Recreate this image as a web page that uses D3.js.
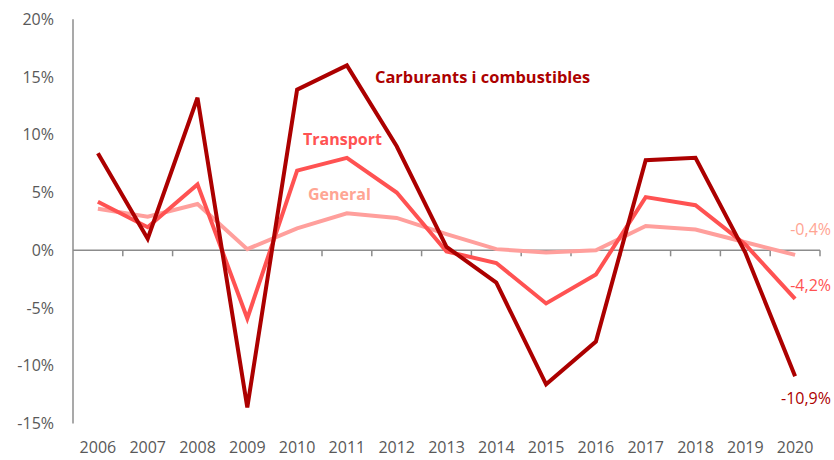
<!DOCTYPE html>
<html><head><meta charset="utf-8">
<script src="https://cdn.jsdelivr.net/npm/d3@7"></script>
<style>
html,body{margin:0;padding:0;background:#fff;}
svg{display:block;font-family:"Open Sans",sans-serif;}
</style></head>
<body>
<svg id="chart" width="834" height="460"></svg>
<script>
const years = ["2006","2007","2008","2009","2010","2011","2012","2013","2014","2015","2016","2017","2018","2019","2020"];
const carburants = [8.4, 1.0, 13.2, -13.6, 13.9, 16.0, 9.0, 0.3, -2.8, -11.6, -7.9, 7.8, 8.0, -0.2, -10.9];
const transport = [4.2, 2.0, 5.7, -5.9, 6.9, 8.0, 5.0, -0.1, -1.1, -4.6, -2.1, 4.6, 3.9, 0.5, -4.2];
const general = [3.6, 2.9, 4.0, 0.1, 1.9, 3.2, 2.8, 1.4, 0.1, -0.2, 0.0, 2.1, 1.8, 0.7, -0.4];
const yTicks = [-15, -10, -5, 0, 5, 10, 15, 20];
const seriesNames = ["Carburants i combustibles", "Transport", "General"];
const endLabels = ["-10,9%", "-4,2%", "-0,4%"];

const colors = ["#AC0000", "#FF5252", "#FF9F9C"];
const labelColors = ["#AC0000", "#FF5252", "#FFA593"];
const svg = d3.select("#chart");
const x = d3.scaleBand().domain(years).range([73, 820]).padding(0);
const y = d3.scaleLinear().domain([-15, 20]).range([423.6, 19.2]);
const cx = d => x(d) + x.bandwidth() / 2;

// y axis line
svg.append("line").attr("x1", 73).attr("x2", 73).attr("y1", y(20)).attr("y2", y(-15))
  .attr("stroke", "#8c8c8c").attr("stroke-width", 1.5);
// y labels
svg.append("g").selectAll("text").data(yTicks).join("text")
  .attr("x", 54).attr("y", d => y(d)).attr("dy", "0.35em")
  .attr("text-anchor", "end").attr("font-size", 16).attr("fill", "#595959")
  .text(d => d + "%");

// x axis at zero
const xAxis = d3.axisBottom(x).tickSize(0).tickFormat("");
const gx = svg.append("g").attr("transform", `translate(0,${y(0)})`).call(xAxis);
gx.select(".domain").remove();
svg.append("line").attr("x1", 73).attr("x2", 820).attr("y1", y(0)).attr("y2", y(0))
  .attr("stroke", "#8c8c8c").attr("stroke-width", 1.5);
const bounds = years.map(d => x(d)).concat([x(years[years.length - 1]) + x.bandwidth()]);
svg.append("g").selectAll("line").data(bounds.slice(1)).join("line")
  .attr("x1", d => d).attr("x2", d => d).attr("y1", y(0)).attr("y2", y(0) + 6)
  .attr("stroke", "#8c8c8c").attr("stroke-width", 1.5);
// x labels
svg.append("g").selectAll("text").data(years).join("text")
  .attr("x", d => cx(d)).attr("y", 447).attr("dy", "0.35em")
  .attr("text-anchor", "middle").attr("font-size", 16).attr("fill", "#595959")
  .text(d => d);

const line = d3.line().x((d, i) => cx(years[i])).y(d => y(d));
const data = [general, transport, carburants];
const cols = [colors[2], colors[1], colors[0]];
data.forEach((s, k) => {
  svg.append("path").datum(s).attr("d", line).attr("fill", "none")
    .attr("stroke", cols[k]).attr("stroke-width", 4).attr("stroke-linejoin", "miter");
});

// series labels
const lab = [
  {t: seriesNames[0], x: 375, y: 77, c: labelColors[0], s: 16.4},
  {t: seriesNames[1], x: 303, y: 139, c: labelColors[1], s: 16},
  {t: seriesNames[2], x: 308, y: 194, c: labelColors[2], s: 16}
];
svg.append("g").selectAll("text").data(lab).join("text")
  .attr("x", d => d.x).attr("y", d => d.y).attr("dy", "0.35em")
  .attr("font-size", d => d.s).attr("font-weight", "bold").attr("fill", d => d.c)
  .text(d => d.t);

// end labels
const ends = [
  {t: endLabels[0], y: 398, c: labelColors[0]},
  {t: endLabels[1], y: 285, c: labelColors[1]},
  {t: endLabels[2], y: 229, c: labelColors[2]}
];
svg.append("g").selectAll("text").data(ends).join("text")
  .attr("x", 831).attr("y", d => d.y).attr("dy", "0.35em")
  .attr("text-anchor", "end").attr("font-size", 16).attr("fill", d => d.c)
  .text(d => d.t);
</script>
</body></html>
